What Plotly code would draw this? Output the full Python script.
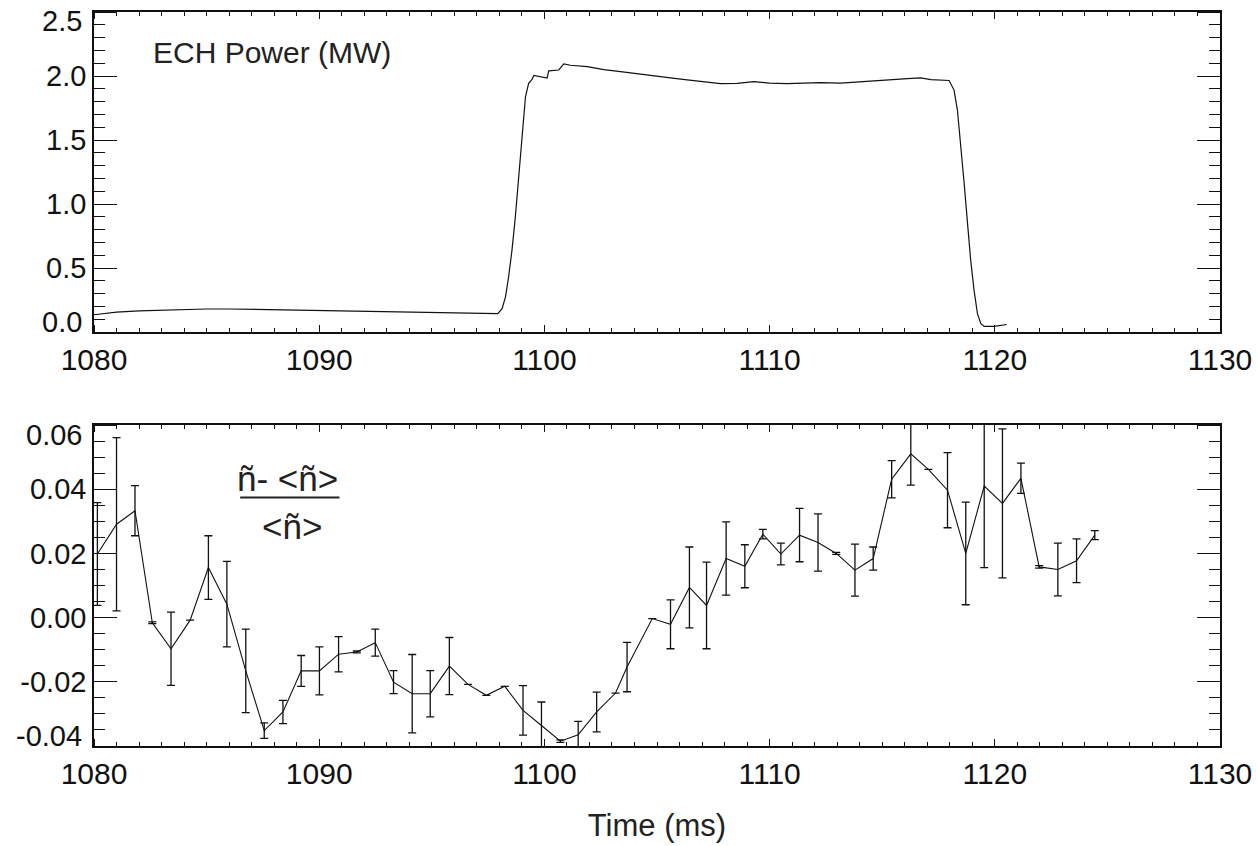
import plotly.graph_objects as go

# ECH power trace (MW) versus time (ms)
ech_time = [1080.0, 1080.5, 1081.0, 1082.0, 1083.0, 1084.0, 1085.0, 1086.0, 1087.0,
            1088.0, 1089.0, 1090.0, 1091.0, 1092.0, 1093.0, 1094.0, 1095.0, 1096.0,
            1097.0, 1097.93, 1098.12, 1098.27, 1098.41, 1098.56, 1098.71, 1098.86,
            1099.01, 1099.16, 1099.3, 1099.45, 1099.53, 1099.82, 1100.12, 1100.19,
            1100.64, 1100.86, 1101.16, 1101.9, 1102.64, 1103.38, 1104.1, 1104.86,
            1105.6, 1106.34, 1107.1, 1107.82, 1108.56, 1109.3, 1110.0, 1110.79,
            1111.5, 1112.27, 1113.16, 1113.9, 1114.64, 1115.4, 1116.12, 1116.71,
            1117.16, 1117.97, 1118.19, 1118.34, 1118.49, 1118.64, 1118.79, 1118.93,
            1119.08, 1119.23, 1119.38, 1119.53, 1119.97, 1120.53]
ech_power = [0.135, 0.145, 0.155, 0.165, 0.172, 0.177, 0.18, 0.18, 0.177,
             0.175, 0.172, 0.17, 0.168, 0.166, 0.162, 0.158, 0.155, 0.152,
             0.148, 0.143, 0.182, 0.273, 0.43, 0.638, 0.90, 1.212,
             1.55, 1.838, 1.943, 1.974, 2.005, 1.995, 1.984, 2.04,
             2.047, 2.094, 2.084, 2.073, 2.05, 2.034, 2.02, 2.0,
             1.985, 1.969, 1.955, 1.94, 1.943, 1.956, 1.945, 1.94,
             1.945, 1.948, 1.945, 1.955, 1.964, 1.972, 1.98, 1.985,
             1.972, 1.965, 1.89, 1.734, 1.473, 1.16, 0.847, 0.56,
             0.325, 0.143, 0.065, 0.044, 0.044, 0.059]

# Normalised density fluctuation amplitude with uncertainties
fluct_time = [1080.15, 1081.0, 1081.82, 1082.59, 1083.42, 1084.27, 1085.08, 1085.9,
              1086.74, 1087.56, 1088.39, 1089.2, 1090.01, 1090.86, 1091.67, 1092.49,
              1093.3, 1094.13, 1094.93, 1095.78, 1096.61, 1097.42, 1098.24, 1099.05,
              1099.87, 1100.71, 1101.5, 1102.32, 1103.16, 1103.67, 1104.79, 1105.6,
              1106.44, 1107.2, 1108.07, 1108.9, 1109.7, 1110.5, 1111.33, 1112.15,
              1112.96, 1113.79, 1114.6, 1115.42, 1116.27, 1117.05, 1117.9, 1118.71,
              1119.53, 1120.34, 1121.16, 1121.97, 1122.8, 1123.63, 1124.44]
fluct_value = [0.0198, 0.0291, 0.0333, -0.0016, -0.0097, -0.0008, 0.0156, 0.0042,
               -0.0166, -0.0352, -0.0294, -0.0166, -0.0166, -0.0114, -0.0107, -0.0078,
               -0.0201, -0.0237, -0.0237, -0.0151, -0.0208, -0.0242, -0.0214, -0.0289,
               -0.0336, -0.0385, -0.0365, -0.0294, -0.0235, -0.0154, -0.0003, -0.0021,
               0.0094, 0.0038, 0.0184, 0.016, 0.026, 0.0198, 0.0257, 0.0234,
               0.02, 0.0148, 0.0184, 0.0431, 0.051, 0.0462, 0.0397, 0.02,
               0.041, 0.0356, 0.0434, 0.0158, 0.015, 0.0177, 0.0257]
fluct_error = [0.016, 0.027, 0.0078, 0.0003, 0.0114, None, 0.0099, 0.0133,
               0.013, 0.0024, 0.0036, 0.0048, 0.0075, 0.0055, 0.0003, 0.0042,
               0.0036, 0.0122, 0.0072, 0.0089, None, None, None, 0.0077,
               0.0073, 0.0004, 0.0042, 0.0062, None, 0.0077, None, 0.0076,
               0.0126, 0.0135, 0.0114, 0.0067, 0.0015, 0.0034, 0.0083, 0.0089,
               0.0003, 0.0081, 0.0036, 0.0058, 0.0097, None, 0.0117, 0.016,
               0.0254, 0.0232, 0.0047, 0.0004, 0.0082, 0.0068, 0.0014]

# Axis ranges with long (major) and short (minor) tick spacing
time_range = [1080, 1130]
time_major, time_minor = 10, 1
power_range = [0.0, 2.5]
power_major, power_minor = 0.5, 0.1
fluct_range = [-0.04, 0.06]
fluct_major, fluct_minor = 0.02, 0.005
# tick label text; end labels of the value axes are set slightly inside the frame
power_labels = {"0": "", "0.0": "", "0.5": "0.5", "1": "1.0", "1.5": "1.5",
                "2": "2.0", "2.5": ""}
fluct_labels = {"\u22120.04": "", "-0.04": "", "\u22120.02": "-0.02", "0": "0.00",
                "0.02": "0.02", "0.04": "0.04", "0.06": ""}

FONT = "Liberation Sans, Arial, Helvetica, sans-serif"
INK = "#111111"
TOP_DOMAIN = [0.564, 1.0]
BOTTOM_DOMAIN = [0.0, 0.4373]

fig = go.Figure()

fig.add_trace(go.Scatter(
    x=ech_time, y=ech_power, mode="lines",
    line=dict(color=INK, width=1.2),
    xaxis="x", yaxis="y", showlegend=False,
))

fig.add_trace(go.Scatter(
    x=fluct_time, y=fluct_value, mode="lines",
    line=dict(color=INK, width=1.1),
    error_y=dict(type="data", array=fluct_error, visible=True,
                 color=INK, thickness=1.3, width=4),
    xaxis="x2", yaxis="y2", showlegend=False,
))


def tick_marks(step, length):
    """Inward tick marks every `step`, drawn through the axis' minor-tick layer."""
    return dict(
        nticks=6, ticks="outside", ticklen=0, tickcolor=INK,
        minor=dict(ticks="inside", ticklen=length, dtick=step, tickcolor=INK),
        showgrid=False, zeroline=False, automargin=False,
    )


def main_time_axis(anchor):
    ax = tick_marks(time_minor, 4)
    ax.update(range=time_range, anchor=anchor, domain=[0, 1],
              showline=True, linecolor=INK, linewidth=1.5, mirror=True,
              tickfont=dict(family=FONT, size=30, color=INK))
    return ax


def main_value_axis(anchor, domain, rng, minor, alias):
    ax = tick_marks(minor, 11)
    ax.update(range=rng, anchor=anchor, domain=domain,
              showline=True, linecolor=INK, linewidth=1.5, mirror=True,
              labelalias=alias, tickfont=dict(family=FONT, size=29, color=INK))
    return ax


def extra_axis(rng, overlay, anchor, side, step, length):
    ax = tick_marks(step, length)
    ax.update(range=rng, overlaying=overlay, anchor=anchor, side=side,
              showline=False, showticklabels=False)
    return ax


axes = {}
axes["xaxis"] = main_time_axis("y")
axes["yaxis"] = main_value_axis("x", TOP_DOMAIN, power_range, power_minor, power_labels)
axes["xaxis2"] = main_time_axis("y2")
axes["xaxis2"]["title"] = dict(text="Time (ms)",
                               font=dict(family=FONT, size=31, color="#222222"),
                               standoff=26)
axes["yaxis2"] = main_value_axis("x2", BOTTOM_DOMAIN, fluct_range, fluct_minor,
                                 fluct_labels)

# additional tick axes: long ticks on the labelled sides, both lengths on the far sides
panels = [
    ("x", "y", [3, 4, 5], power_range, power_major, power_minor),
    ("x2", "y2", [6, 7, 8], fluct_range, fluct_major, fluct_minor),
]
for xm, ym, ids, yrng, ymaj, ymin in panels:
    x_specs = [("bottom", time_major, 7), ("top", time_minor, 4), ("top", time_major, 7)]
    y_specs = [("left", ymaj, 23), ("right", ymin, 11), ("right", ymaj, 23)]
    for i, (side, step, length) in zip(ids, x_specs):
        axes[f"xaxis{i}"] = extra_axis(time_range, xm, ym, side, step, length)
        fig.add_trace(go.Scatter(x=[], y=[], xaxis=f"x{i}", yaxis=ym,
                                 showlegend=False, hoverinfo="skip"))
    for i, (side, step, length) in zip(ids, y_specs):
        axes[f"yaxis{i}"] = extra_axis(yrng, ym, xm, side, step, length)
        fig.add_trace(go.Scatter(x=[], y=[], xaxis=xm, yaxis=f"y{i}",
                                 showlegend=False, hoverinfo="skip"))

fig.update_layout(
    width=1257, height=846,
    margin=dict(l=94, r=37, t=12, b=100, autoexpand=False),
    paper_bgcolor="white", plot_bgcolor="white",
    **axes,
)

# End-of-axis value labels, nudged inside the frame
label_x = -0.0089
for text, yref, yval in [("2.5", "y", 2.43), ("0.0", "y", 0.075),
                         ("0.06", "y2", 0.0569), ("-0.04", "y2", -0.037)]:
    fig.add_annotation(
        x=label_x, y=yval, xref="paper", yref=yref, xanchor="right", yanchor="middle",
        text=text, showarrow=False, font=dict(family=FONT, size=29, color=INK),
    )

# Panel labels
fig.add_annotation(
    x=1082.55, y=2.18, xref="x", yref="y", xanchor="left", yanchor="middle",
    text="ECH Power (MW)", showarrow=False,
    font=dict(family=FONT, size=30, color="#222222"),
)
fig.add_annotation(
    x=1088.6, y=0.0432, xref="x2", yref="y2", xanchor="center", yanchor="middle",
    text="ñ- <ñ>", showarrow=False,
    font=dict(family=FONT, size=35, color="#222222"),
)
fig.add_annotation(
    x=1088.8, y=0.0283, xref="x2", yref="y2", xanchor="center", yanchor="middle",
    text="<ñ>", showarrow=False,
    font=dict(family=FONT, size=35, color="#222222"),
)
fig.add_shape(
    type="line", xref="x2", yref="y2",
    x0=1086.49, x1=1090.9, y0=0.0374, y1=0.0374,
    line=dict(color="#222222", width=2),
)

fig.write_html("out.html")
